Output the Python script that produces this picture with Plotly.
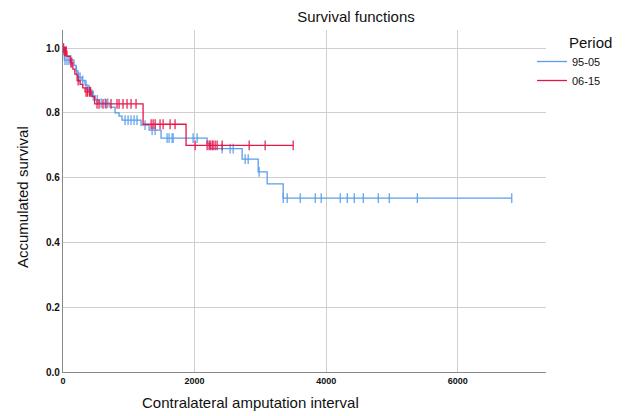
import plotly.graph_objects as go

# ---- Data ----
series_names = ["95-05", "06-15"]

# 95-05 step function: times of events and survival after each event
blue_step_x = [0, 10, 20, 167, 198, 228, 289, 335, 380, 441, 487, 548, 715, 791, 852, 897,
               1186, 1308, 1490, 2190, 2240, 2722, 2966, 3103, 3346, 6820]
blue_step_y = [1.0, 0.98, 0.963, 0.947, 0.93, 0.91, 0.90, 0.886, 0.87, 0.853, 0.84, 0.83, 0.818,
               0.80, 0.79, 0.778, 0.762, 0.747, 0.722, 0.705, 0.69, 0.657, 0.618, 0.581, 0.537, 0.537]
blue_cens_x = [30, 60, 90, 120, 205, 240, 260, 300, 350, 400, 460, 520, 580, 640, 680,
               943, 989, 1034, 1080, 1125, 1247, 1354, 1400, 1582, 1612, 1658, 1673, 1977, 2038,
               2418, 2540, 2586, 2768, 2814, 2981,
               3346, 3407, 3605, 3833, 3924, 4213, 4320, 4426, 4563, 4791, 4958, 5384, 6820]

# 06-15 step function
red_step_x = [0, 20, 60, 110, 150, 180, 215, 260, 300, 335, 440, 480, 1217, 1870, 3500]
red_step_y = [1.0, 0.99, 0.975, 0.955, 0.935, 0.92, 0.90, 0.888, 0.877, 0.865, 0.85, 0.828,
              0.765, 0.70, 0.70]
red_cens_x = [10, 25, 40, 50, 120, 135, 230, 350, 370, 400, 420,
              517, 548, 608, 654, 730, 821, 852, 912, 973, 1034, 1110,
              1339, 1369, 1400, 1475, 1521, 1627, 1703,
              2008, 2190, 2220, 2236, 2266, 2281, 2312, 2342, 2418, 2829, 3072, 3498]

x_ticks = [0, 2000, 4000, 6000]
y_ticks = [0.0, 0.2, 0.4, 0.6, 0.8, 1.0]
y_tick_labels = ["0.0", "0.2", "0.4", "0.6", "0.8", "1.0"]

colors = ["#5A9DEB", "#E3184A"]


def surv_at(t, xs, ys):
    val = ys[0]
    for xx, yy in zip(xs, ys):
        if xx <= t:
            val = yy
        else:
            break
    return val


fig = go.Figure()
for name, sx, sy, cx, col in [
    (series_names[0], blue_step_x, blue_step_y, blue_cens_x, colors[0]),
    (series_names[1], red_step_x, red_step_y, red_cens_x, colors[1]),
]:
    fig.add_trace(go.Scatter(x=sx, y=sy, mode="lines", line=dict(shape="hv", color=col, width=1.3),
                             name=name, legendgroup=name, hoverinfo="skip"))
    fig.add_trace(go.Scatter(x=cx, y=[surv_at(t, sx, sy) for t in cx], mode="markers",
                             marker=dict(symbol="line-ns-open", size=7, color=col,
                                         line=dict(color=col, width=1.2)),
                             name=name, legendgroup=name, showlegend=False, hoverinfo="skip"))

# page has an ~8px body margin, so figure is sized 617x408
W, H = 617, 408
L, R, T, B = 55, 79, 22, 44
PW, PH = W - L - R, H - T - B

tick_font = dict(size=10, color="#111", family="Liberation Sans Narrow, Liberation Sans, Arial")

fig.update_layout(
    width=W, height=H,
    margin=dict(l=L, r=R, t=T, b=B),
    paper_bgcolor="white", plot_bgcolor="white",
    font=dict(family="Liberation Sans, Arial, sans-serif", color="#111"),
    title=dict(text="Survival functions", x=348 / W, xref="container", xanchor="center",
               y=1 - 9 / H, yref="container", yanchor="middle", font=dict(size=15, color="#111")),
    showlegend=True,
    legend=dict(x=(524 - L) / PW, xanchor="left", y=(H - B - 39) / PH, yanchor="top",
                font=dict(size=11), tracegroupgap=0, itemwidth=30,
                bgcolor="rgba(0,0,0,0)"),
    xaxis=dict(range=[0, 7340], tickvals=x_ticks, ticktext=["<b>%d</b>" % v for v in x_ticks],
               showgrid=True, gridcolor="#CFCFCF", gridwidth=1.2,
               showline=True, linecolor="#888", linewidth=1.2,
               zeroline=False, ticks="", tickfont=dict(tick_font, size=9),
               fixedrange=True),
    yaxis=dict(range=[0, 1.056], tickvals=y_ticks, ticktext=["<b>%s</b>" % s for s in y_tick_labels],
               showgrid=True, gridcolor="#CFCFCF", gridwidth=1.2,
               showline=True, linecolor="#888", linewidth=1.2,
               zeroline=False, ticks="", tickfont=tick_font,
               fixedrange=True),
    annotations=[
        dict(text="Period", xref="paper", yref="paper",
             x=(582 - L) / PW, y=(H - B - 35) / PH, xanchor="center", yanchor="middle",
             showarrow=False, font=dict(size=15, color="#111")),
        dict(text="Contralateral amputation interval", xref="paper", yref="paper",
             x=(242 - L) / PW, y=-(394 - (H - B)) / PH, xanchor="center", yanchor="middle",
             showarrow=False, font=dict(size=15, color="#111")),
        dict(text="Accumulated survival", xref="paper", yref="paper",
             x=-(L - 14) / PW, y=(H - B - 189) / PH, xanchor="center", yanchor="middle",
             textangle=-90, showarrow=False, font=dict(size=15, color="#111")),
    ],
)

fig.write_html("out.html")
